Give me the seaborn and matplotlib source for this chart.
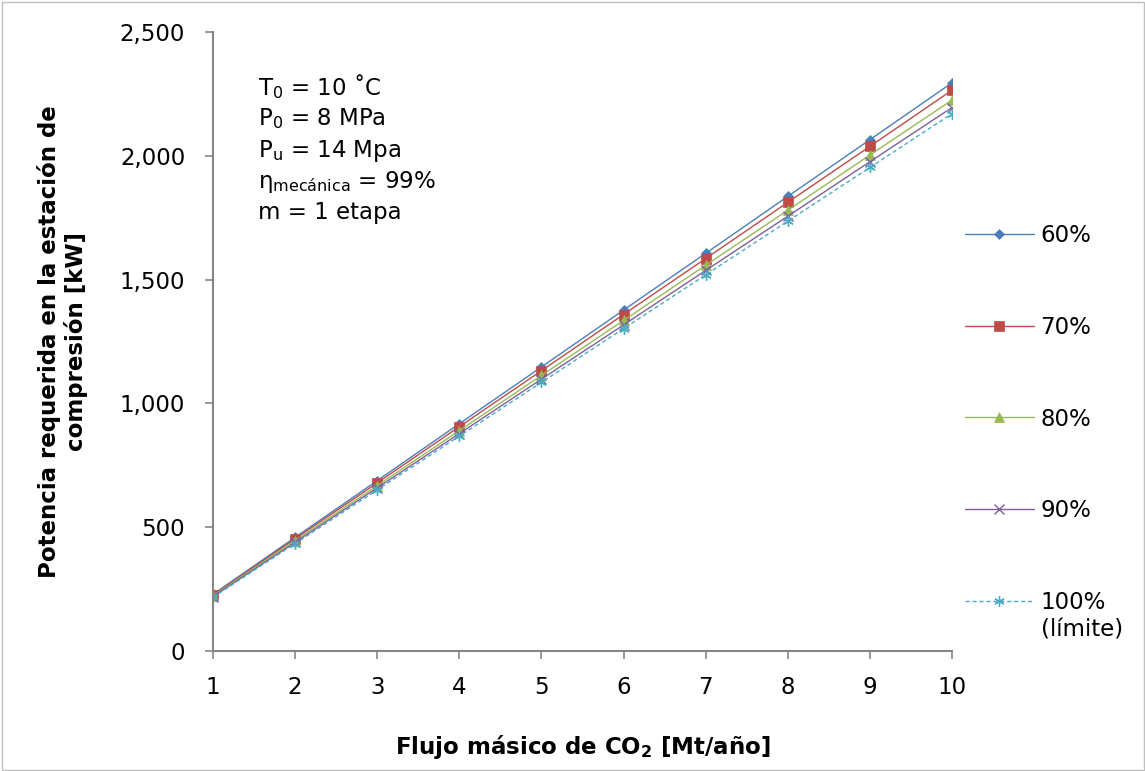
import numpy as np
import pandas as pd
import matplotlib
matplotlib.use("Agg")
import matplotlib.pyplot as plt
import seaborn as sns
from matplotlib.ticker import FuncFormatter
from matplotlib.patches import Rectangle

# ---------------- data ----------------
flujo = [1, 2, 3, 4, 5, 6, 7, 8, 9, 10]
series_labels = ["60%", "70%", "80%", "90%", "100%"]
p60 = [229, 459, 688, 918, 1147, 1377, 1606, 1836, 2065, 2295]
p70 = [226, 453, 679, 906, 1132, 1359, 1585, 1812, 2038, 2265]
p80 = [223, 445, 668, 890, 1113, 1335, 1558, 1780, 2003, 2225]
p90 = [220, 439, 659, 878, 1098, 1317, 1537, 1756, 1976, 2195]
p100 = [217, 434, 651, 868, 1085, 1302, 1519, 1736, 1953, 2170]
y_ticks = [0, 500, 1000, 1500, 2000, 2500]
x_ticks = flujo

values = [p60, p70, p80, p90, p100]
colors = ["#4A7EBB", "#BE4B48", "#98B954", "#7D60A0", "#4BACC6"]
markers = ["D", "s", "^", "x", (6, 2, 0)]
msizes = [5.5, 6.5, 6.5, 6.5, 7.5]
styles = ["-", "-", "-", "-", (0, (3, 2))]

rows = []
for lab, vals in zip(series_labels, values):
    for x, v in zip(flujo, vals):
        rows.append({"flujo": x, "potencia": v, "serie": lab})
df = pd.DataFrame(rows)

# ---------------- figure ----------------
sns.set_style("white")
plt.rcParams["font.family"] = ["DejaVu Sans"]
plt.rcParams["mathtext.default"] = "regular"
plt.rcParams["text.color"] = "black"
plt.rcParams["axes.labelcolor"] = "black"
plt.rcParams["xtick.color"] = "black"
plt.rcParams["ytick.color"] = "black"

FS = 16.5
fig = plt.figure(figsize=(11.45, 7.71), dpi=100)
W, H = 1145, 771
L, R, T, B = 213, 952, 32, 651
ax = fig.add_axes([L / W, 1 - B / H, (R - L) / W, (B - T) / H])

for lab, c, m, ms, ls in zip(series_labels, colors, markers, msizes, styles):
    sub = df[df["serie"] == lab]
    sns.lineplot(data=sub, x="flujo", y="potencia", ax=ax, color=c,
                 marker=m, markersize=ms, linewidth=1.0, linestyle=ls,
                 markeredgecolor=c,
                 markeredgewidth=1.0 if (m == "x" or isinstance(m, tuple)) else 0.5,
                 label=lab, legend=False)

ax.set_xlim(1, 10)
ax.set_ylim(0, 2500)
ax.set_xticks(x_ticks)
ax.set_yticks(y_ticks)
ax.yaxis.set_major_formatter(FuncFormatter(lambda v, p: f"{v:,.0f}"))

for side in ["top", "right"]:
    ax.spines[side].set_visible(False)
for side in ["left", "bottom"]:
    ax.spines[side].set_color("#868686")
    ax.spines[side].set_linewidth(1.5)
ax.tick_params(axis="both", which="both", direction="out", length=6, width=1.2,
               color="#868686", labelsize=FS, labelcolor="black",
               left=True, bottom=True)
ax.tick_params(axis="x", pad=12)
ax.tick_params(axis="y", pad=14)
ax.grid(False)

ax.set_xlabel("Flujo másico de CO$_2$ [Mt/año]", fontsize=FS, fontweight="bold",
              color="black")
ax.set_ylabel("Potencia requerida en la estación de\ncompresión [kW]", fontsize=FS,
              fontweight="bold", linespacing=1.15, color="black")
ax.xaxis.set_label_coords(0.5, (B - 733) / (B - T))
ax.yaxis.set_label_coords((88 - L) / (R - L), 0.5)

# annotation block
ann = ["T$_0$ = 10 ˚C", "P$_0$ = 8 MPa", "P$_u$ = 14 Mpa",
       "η$_{mecánica}$ = 99%", "m = 1 etapa"]
ann_y = [87, 119, 151, 182, 213]
for txt, yy in zip(ann, ann_y):
    ax.text((258 - L) / (R - L), (B - yy) / (B - T), txt, transform=ax.transAxes,
            fontsize=FS, va="center", ha="left", color="black")

# legend
handles, labels = ax.get_legend_handles_labels()
leg = fig.legend(handles, labels, loc="upper left",
                 bbox_to_anchor=(965 / W, 1 - 224 / H), frameon=False,
                 fontsize=FS, labelspacing=3.0, handlelength=3.0,
                 handletextpad=0.3, borderpad=0, borderaxespad=0)
for t in leg.get_texts():
    t.set_color("black")

fig.canvas.draw()
t5 = leg.get_texts()[-1]
bb = t5.get_window_extent()
fig.text(bb.x0 / W, (bb.y0 - 4) / H, "(límite)", fontsize=FS, va="top", ha="left",
         color="black")

fig.patches.append(Rectangle((1.5 / W, 1.5 / H), 1 - 3 / W, 1 - 3 / H,
                             transform=fig.transFigure, fill=False,
                             edgecolor="#bfbfbf", linewidth=1.0))

fig.savefig("out.png", dpi=100)
